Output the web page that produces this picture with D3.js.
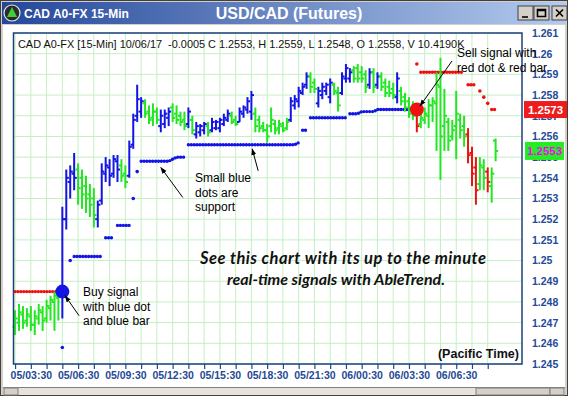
<!DOCTYPE html>
<html>
<head>
<meta charset="utf-8">
<script src="https://cdn.jsdelivr.net/npm/d3@7/dist/d3.min.js"></script>
<style>
  body { margin: 0; background: #fff; }
  svg { display: block; font-family: "Liberation Sans", Arial, sans-serif; }
</style>
</head>
<body>
<div id="chart"></div>
<script>
var _ = null;

// AbleTrend bar colours: g = green, b = blue (up), r = red (down)
var barColors = ("gggggggggg" + "ggbbbbgggg" + "gbbbbbbggb" + "bbbggggbbb" + "ggggbgbbbg" +
                 "bbbbbggbbb" + "bggggggggg" + "bbbbbggbbb" + "bggbbbgggg" + "bgbggggbgg" +
                 "ggrggggggg" + "gggggrrrgg" + "rgg").split("");

var opens = [
  1.2468,1.2470,1.2474,1.2471,1.2473,1.2469,1.2472,1.2475,1.2472,1.2477,
  1.2480,1.2482,1.2484,1.2520,1.2538,1.2542,1.2544,1.2540,1.2536,1.2532,
  1.2530,1.2520,1.2529,1.2542,1.2545,1.2542,1.2548,1.2546,1.2542,1.2541,
  1.2556,1.2570,1.2572,1.2576,1.2572,1.2569,1.2572,1.2565,1.2566,1.2569,
  1.2574,1.2571,1.2570,1.2568,1.2566,1.2568,1.2561,1.2562,1.2563,1.2565,
  1.2563,1.2564,1.2564,1.2566,1.2568,1.2570,1.2568,1.2567,1.2571,1.2573,
  1.2572,1.2571,1.2568,1.2565,1.2563,1.2565,1.2566,1.2564,1.2565,1.2564,
  1.2568,1.2575,1.2577,1.2581,1.2585,1.2589,1.2586,1.2576,1.2580,1.2582,
  1.2579,1.2585,1.2581,1.2581,1.2588,1.2588,1.2592,1.2593,1.2591,1.2590,
  1.2585,1.2591,1.2585,1.2589,1.2586,1.2584,1.2583,1.2579,1.2582,1.2579,
  1.2577,1.2574,1.2573,1.2566,1.2568,1.2570,1.2575,1.2576,1.2584,1.2565,
  1.2567,1.2560,1.2565,1.2568,1.2565,1.2561,1.2552,1.2545,1.2537,1.2545,
  1.2543,1.2536,1.2558];
var highs = [
  1.2476,1.2479,1.2478,1.2477,1.2478,1.2476,1.2479,1.2478,1.2481,1.2483,
  1.2485,1.2486,1.2526,1.2544,1.2546,1.2552,1.2547,1.2544,1.2541,1.2537,
  1.2535,1.2529,1.2547,1.2550,1.2549,1.2551,1.2551,1.2549,1.2546,1.2558,
  1.2571,1.2585,1.2579,1.2578,1.2575,1.2576,1.2574,1.2573,1.2573,1.2574,
  1.2576,1.2575,1.2572,1.2572,1.2574,1.2570,1.2567,1.2566,1.2567,1.2567,
  1.2569,1.2568,1.2569,1.2571,1.2573,1.2572,1.2570,1.2574,1.2575,1.2579,
  1.2582,1.2574,1.2570,1.2567,1.2566,1.2574,1.2568,1.2568,1.2567,1.2569,
  1.2579,1.2580,1.2584,1.2586,1.2591,1.2591,1.2588,1.2584,1.2586,1.2586,
  1.2588,1.2586,1.2584,1.2591,1.2595,1.2593,1.2594,1.2595,1.2594,1.2592,
  1.2593,1.2593,1.2591,1.2591,1.2588,1.2587,1.2586,1.2591,1.2584,1.2581,
  1.2579,1.2577,1.2575,1.2572,1.2574,1.2578,1.2579,1.2591,1.2598,1.2583,
  1.2569,1.2568,1.2582,1.2571,1.2570,1.2564,1.2555,1.2550,1.2550,1.2549,
  1.2545,1.2545,1.2559];
var lows = [
  1.2464,1.2466,1.2467,1.2468,1.2466,1.2464,1.2469,1.2466,1.2470,1.2471,
  1.2466,1.2471,1.2472,1.2515,1.2530,1.2534,1.2527,1.2525,1.2523,1.2521,
  1.2516,1.2516,1.2527,1.2538,1.2536,1.2540,1.2538,1.2538,1.2535,1.2540,
  1.2554,1.2567,1.2569,1.2569,1.2566,1.2565,1.2566,1.2562,1.2564,1.2565,
  1.2567,1.2566,1.2565,1.2563,1.2564,1.2561,1.2559,1.2560,1.2561,1.2560,
  1.2562,1.2563,1.2562,1.2565,1.2567,1.2566,1.2565,1.2567,1.2569,1.2571,
  1.2568,1.2562,1.2562,1.2562,1.2557,1.2562,1.2561,1.2561,1.2562,1.2563,
  1.2567,1.2573,1.2574,1.2580,1.2583,1.2581,1.2581,1.2574,1.2578,1.2580,
  1.2576,1.2580,1.2572,1.2580,1.2586,1.2586,1.2586,1.2586,1.2586,1.2581,
  1.2583,1.2581,1.2583,1.2582,1.2579,1.2579,1.2578,1.2576,1.2575,1.2572,
  1.2569,1.2568,1.2562,1.2564,1.2566,1.2564,1.2567,1.2553,1.2539,1.2553,
  1.2553,1.2558,1.2549,1.2559,1.2555,1.2547,1.2536,1.2527,1.2534,1.2534,
  1.2533,1.2528,1.2548];
var closes = [
  1.2472,1.2475,1.2470,1.2474,1.2469,1.2473,1.2476,1.2471,1.2478,1.2481,
  1.2483,1.2484,1.2520,1.2540,1.2543,1.2540,1.2535,1.2532,1.2530,1.2527,
  1.2522,1.2527,1.2543,1.2546,1.2541,1.2549,1.2544,1.2541,1.2538,1.2555,
  1.2568,1.2578,1.2577,1.2571,1.2568,1.2572,1.2568,1.2570,1.2571,1.2572,
  1.2569,1.2568,1.2567,1.2565,1.2572,1.2563,1.2565,1.2565,1.2566,1.2562,
  1.2567,1.2567,1.2568,1.2569,1.2571,1.2567,1.2566,1.2572,1.2574,1.2577,
  1.2580,1.2565,1.2564,1.2563,1.2560,1.2568,1.2563,1.2566,1.2563,1.2567,
  1.2577,1.2578,1.2582,1.2584,1.2589,1.2584,1.2583,1.2582,1.2584,1.2585,
  1.2586,1.2582,1.2575,1.2589,1.2593,1.2591,1.2588,1.2588,1.2588,1.2584,
  1.2591,1.2584,1.2589,1.2584,1.2581,1.2581,1.2580,1.2588,1.2577,1.2574,
  1.2571,1.2570,1.2565,1.2569,1.2571,1.2575,1.2577,1.2585,1.2560,1.2570,
  1.2558,1.2563,1.2571,1.2563,1.2560,1.2551,1.2542,1.2534,1.2546,1.2540,
  1.2538,1.2542,1.2553];

// support (blue dots) and resistance (red dots) per bar
var support = [
  _,_,_,_,_,_,_,_,_,_,
  _,_,1.2458,_,1.2500,1.2502,1.2502,1.2502,1.2502,1.2502,
  1.2502,1.2502,1.2502,1.2511,1.2511,1.2511,1.2517,1.2517,1.2517,1.2517,
  1.2530,1.2543,1.2548,1.2548,1.2548,1.2548,1.2548,1.2548,1.2548,1.2548,
  1.2549,1.2550,1.2550,1.2550,1.2556,1.2556,1.2556,1.2556,1.2556,1.2556,
  1.2556,1.2556,1.2556,1.2556,1.2556,1.2556,1.2556,1.2556,1.2556,1.2556,
  1.2556,1.2556,1.2556,1.2556,1.2556,1.2556,1.2556,1.2556,1.2556,1.2556,
  1.2556,1.2556,1.2557,1.2563,1.2563,1.2569,1.2569,1.2569,1.2569,1.2569,
  1.2569,1.2569,1.2569,1.2569,1.2569,1.2571,1.2571,1.2571,1.2572,1.2572,
  1.2572,1.2572,1.2573,1.2573,1.2573,1.2573,1.2573,1.2573,1.2573,1.2573,
  1.2573,1.2573,_,_,_,_,_,_,_,_,
  _,_,_,_,_,_,_,_,_,_,
  _,_,_];
var resistance = [
  1.2485,1.2485,1.2485,1.2485,1.2485,1.2485,1.2485,1.2485,1.2485,1.2485,
  1.2485,1.2485,_,_,_,_,_,_,_,_,
  _,_,_,_,_,_,_,_,_,_,
  _,_,_,_,_,_,_,_,_,_,
  _,_,_,_,_,_,_,_,_,_,
  _,_,_,_,_,_,_,_,_,_,
  _,_,_,_,_,_,_,_,_,_,
  _,_,_,_,_,_,_,_,_,_,
  _,_,_,_,_,_,_,_,_,_,
  _,_,_,_,_,_,_,_,_,_,
  _,_,1.2595,1.2591,1.2591,1.2591,1.2591,1.2591,1.2591,1.2591,
  1.2591,1.2591,1.2591,1.2591,1.2591,1.2585,1.2585,1.2585,1.2582,1.2579,
  1.2576,1.2573,1.2573];

var buySignal = { bar: 12, price: 1.2485 };
var sellSignal = { bar: 102, price: 1.2573 };

var yTickLabels = ["1.245","1.246","1.247","1.248","1.249","1.25","1.251","1.252",
                   "1.253","1.254","1.255","1.256","1.257","1.258","1.259","1.26","1.261"];
var xTickLabels = ["05/03:30","05/06:30","05/09:30","05/12:30","05/15:30",
                   "05/18:30","05/21:30","06/00:30","06/03:30","06/06:30"];
var hourTickBars = d3.range(0, 121, 4);      // one grid line per hour (4 bars)
var labelBars = d3.range(4, 113, 12);        // label every third hour

var headerText = "CAD A0-FX [15-Min] 10/06/17  -0.0005 C 1.2553, H 1.2559, L 1.2548, O 1.2558, V 10.4190K";

var W = 568, H = 396;
var plotL = 13.5, plotR = 522, plotT = 33, plotB = 364;
var colors = { g: "#22e622", b: "#1414e6", r: "#ee1111" };
var axisBlue = "#1f4a96";

var x = d3.scaleLinear().domain([-0.4, 128.7]).range([plotL, plotR]);
var y = d3.scaleLinear().domain([1.245, 1.261]).range([plotB, plotT]);

var svg = d3.select("#chart").append("svg")
    .attr("width", W)
    .attr("height", H);

var defs = svg.append("defs");
var grad = defs.append("linearGradient").attr("id", "titleGrad");
grad.append("stop").attr("offset", "0%").attr("stop-color", "#24479a");
grad.append("stop").attr("offset", "100%").attr("stop-color", "#b4cbee");
defs.append("marker")
    .attr("id", "arrow")
    .attr("viewBox", "0 0 10 10")
    .attr("refX", 9).attr("refY", 5)
    .attr("markerWidth", 7).attr("markerHeight", 7)
    .attr("orient", "auto")
    .append("path").attr("d", "M0,1.5 L10,5 L0,8.5 Z").attr("fill", "#000");

// window frame
svg.append("rect").attr("width", W).attr("height", H).attr("fill", "#d4d0c8");
svg.append("rect").attr("x", 0.5).attr("y", 0.5).attr("width", W - 1).attr("height", H - 1)
    .attr("fill", "none").attr("stroke", "#404040");
svg.append("rect").attr("x", 3).attr("y", 25).attr("width", W - 6).attr("height", 362).attr("fill", "#fff");

// title bar
svg.append("rect").attr("x", 2).attr("y", 2).attr("width", W - 4).attr("height", 22).attr("fill", "url(#titleGrad)");
svg.append("circle").attr("cx", 12).attr("cy", 13).attr("r", 8).attr("fill", "#2b2b2b").attr("stroke", "#e8e8e8").attr("stroke-width", 1.2);
svg.append("path").attr("d", "M12,7 L17,17 L7,17 Z").attr("fill", "#3ccf3c");
svg.append("text").attr("x", 24).attr("y", 17.5).attr("fill", "#fff")
    .style("font-size", "12px").style("font-weight", "bold").text("CAD A0-FX 15-Min");
svg.append("text").attr("x", 289).attr("y", 19).attr("fill", "#fff").attr("text-anchor", "middle")
    .style("font-size", "16px").style("font-weight", "bold").text("USD/CAD (Futures)");
var btn = svg.selectAll(".btn").data([0, 1, 2]).enter().append("g")
    .attr("transform", function (d) { return "translate(" + (518 + d * 16 + (d == 2 ? 2 : 0)) + ",6)"; });
btn.append("rect").attr("width", 15).attr("height", 14).attr("fill", "#d4d0c8")
    .attr("stroke", "#404040").attr("stroke-width", 1);
btn.append("path").attr("fill", "none").attr("stroke", "#000").attr("stroke-width", 1.6)
    .attr("d", function (d) {
        if (d == 0) return "M4,11 H10";
        if (d == 1) return "M3.5,3.5 H11.5 V10.5 H3.5 Z M3.5,4.5 H11.5";
        return "M4,3.5 L11,10.5 M11,3.5 L4,10.5";
    });

// bottom scrollbar strip
svg.append("rect").attr("x", 3).attr("y", 387).attr("width", W - 6).attr("height", 8).attr("fill", "#e6e3dc");
svg.append("line").attr("x1", 3).attr("x2", W - 3).attr("y1", 387.5).attr("y2", 387.5).attr("stroke", "#808080");
svg.append("rect").attr("x", 4).attr("y", 388).attr("width", 14).attr("height", 7).attr("fill", "#d4d0c8").attr("stroke", "#808080");
svg.append("rect").attr("x", 476).attr("y", 388).attr("width", 74).attr("height", 7).attr("fill", "#d4d0c8").attr("stroke", "#808080");
svg.append("rect").attr("x", 550).attr("y", 388).attr("width", 14).attr("height", 7).attr("fill", "#d4d0c8").attr("stroke", "#808080");

// grid
var grid = svg.append("g");
grid.selectAll(".hg").data(yTickLabels).enter().append("line")
    .attr("x1", plotL).attr("x2", plotR)
    .attr("y1", function (d) { return y(+d); }).attr("y2", function (d) { return y(+d); })
    .attr("stroke", "#c4efc4").attr("stroke-width", 1);
grid.selectAll(".vg").data(hourTickBars).enter().append("line")
    .attr("x1", function (d) { return x(d); }).attr("x2", function (d) { return x(d); })
    .attr("y1", plotT).attr("y2", plotB)
    .attr("stroke", "#c4efc4").attr("stroke-width", 1);

// axes
var xAxis = d3.axisBottom(x)
    .tickValues(hourTickBars)
    .tickSize(5)
    .tickPadding(3)
    .tickFormat(function (d) { var k = labelBars.indexOf(d); return k < 0 ? "" : xTickLabels[k]; });
var gx = svg.append("g").attr("transform", "translate(0," + plotB + ")").call(xAxis);
gx.select(".domain").remove();
gx.selectAll("line").attr("stroke", axisBlue).attr("stroke-width", 1.2);
gx.selectAll("text").attr("fill", axisBlue).style("font-size", "10.5px").style("font-weight", "bold")
    .style("font-family", "'Liberation Sans', Arial, sans-serif");

var yAxis = d3.axisRight(y)
    .tickValues(yTickLabels.map(Number))
    .tickSize(0)
    .tickPadding(10)
    .tickFormat(function (d, i) { return yTickLabels[i]; });
var gy = svg.append("g").attr("transform", "translate(" + plotR + ",0)").call(yAxis);
gy.select(".domain").remove();
gy.selectAll("text").attr("fill", axisBlue).style("font-size", "10.5px").style("font-weight", "bold")
    .style("font-family", "'Liberation Sans', Arial, sans-serif");

// support / resistance dots
function levelRuns(levels) {
    var runs = [], cur = null;
    levels.forEach(function (v, i) {
        if (v == null) { cur = null; return; }
        if (cur && Math.abs(v - cur[cur.length - 1].v) < 0.00015) cur.push({ i: i, v: v });
        else { cur = [{ i: i, v: v }]; runs.push(cur); }
    });
    return runs;
}
var dotLine = d3.line().x(function (d) { return x(d.i); }).y(function (d) { return y(d.v); });
function drawLevels(levels, color) {
    var runs = levelRuns(levels);
    var g = svg.append("g");
    runs.forEach(function (run) {
        if (run.length == 1) {
            g.append("circle").attr("cx", x(run[0].i)).attr("cy", y(run[0].v)).attr("r", 1.8).attr("fill", color);
        } else {
            g.append("path").attr("d", dotLine(run)).attr("fill", "none")
                .attr("stroke", color).attr("stroke-width", 3.4)
                .attr("stroke-linecap", "round").attr("stroke-dasharray", "0 2.9");
        }
    });
}
drawLevels(support, "#1414e6");
drawLevels(resistance, "#ee1111");

// OHLC bars
var bars = svg.append("g").selectAll(".bar")
    .data(d3.range(opens.length))
    .enter().append("g")
    .attr("stroke", function (i) { return colors[barColors[i]]; })
    .attr("stroke-width", 2);
bars.append("line")
    .attr("x1", function (i) { return x(i); }).attr("x2", function (i) { return x(i); })
    .attr("y1", function (i) { return y(highs[i]); }).attr("y2", function (i) { return y(lows[i]); });
bars.append("line")
    .attr("x1", function (i) { return x(i) - 2.6; }).attr("x2", function (i) { return x(i); })
    .attr("y1", function (i) { return y(opens[i]); }).attr("y2", function (i) { return y(opens[i]); });
bars.append("line")
    .attr("x1", function (i) { return x(i); }).attr("x2", function (i) { return x(i) + 2.6; })
    .attr("y1", function (i) { return y(closes[i]); }).attr("y2", function (i) { return y(closes[i]); });

// signal dots
svg.append("circle").attr("cx", x(buySignal.bar)).attr("cy", y(buySignal.price)).attr("r", 7).attr("fill", "#1414e6");
svg.append("circle").attr("cx", x(sellSignal.bar)).attr("cy", y(sellSignal.price)).attr("r", 7).attr("fill", "#ee1111");

// plot border
svg.append("rect").attr("x", plotL).attr("y", plotT).attr("width", plotR - plotL).attr("height", plotB - plotT)
    .attr("fill", "none").attr("stroke", "#1c3f7e").attr("stroke-width", 1.5);

// header
svg.append("text").attr("x", 18).attr("y", 48).attr("fill", "#111")
    .style("font-size", "10.9px").style("white-space", "pre").text(headerText);

// price tags
var lastClose = closes[closes.length - 1];
var lastRes = resistance[resistance.length - 1];
svg.append("rect").attr("x", 524).attr("y", y(lastRes) - 8.5).attr("width", 43).attr("height", 17).attr("fill", "#ee1c1c");
svg.append("text").attr("x", 545.5).attr("y", y(lastRes) + 4.5).attr("text-anchor", "middle").attr("fill", "#fff")
    .style("font-size", "11.5px").style("font-weight", "bold").text(lastRes.toFixed(4));
svg.append("rect").attr("x", 525).attr("y", y(lastClose) - 9).attr("width", 39).attr("height", 18).attr("fill", "#22ee22");
svg.append("text").attr("x", 544.5).attr("y", y(lastClose) + 4.5).attr("text-anchor", "middle").attr("fill", "#ff00ff")
    .style("font-size", "11.5px").style("font-weight", "bold").text(lastClose.toFixed(4));

// annotations
var notes = [
    { x: 457, y: 57, lines: ["Sell signal with", "red dot & red bar"] },
    { x: 195, y: 182, lines: ["Small blue", "dots are", "support"] },
    { x: 83, y: 296, lines: ["Buy signal", "with blue dot", "and blue bar"] }
];
notes.forEach(function (n) {
    var t = svg.append("text").attr("x", n.x).attr("y", n.y).attr("fill", "#000").style("font-size", "12px");
    n.lines.forEach(function (s, k) {
        t.append("tspan").attr("x", n.x).attr("dy", k == 0 ? 0 : 14.5).text(s);
    });
});
var arrows = [
    { bar: sellSignal.bar + 0.8, price: sellSignal.price + 0.00017, dx: 32, dy: -45 },
    { bar: buySignal.bar + 0.7, price: buySignal.price - 0.0002, dx: 14, dy: 20 },
    { bar: 37, price: 1.2545, dx: 22, dy: 30 },
    { bar: 60.2, price: 1.2554, dx: 6, dy: 22 }
];
svg.selectAll(".arrow").data(arrows).enter().append("line")
    .attr("x1", function (d) { return x(d.bar) + d.dx; })
    .attr("y1", function (d) { return y(d.price) + d.dy; })
    .attr("x2", function (d) { return x(d.bar); })
    .attr("y2", function (d) { return y(d.price); })
    .attr("stroke", "#000").attr("stroke-width", 1)
    .attr("marker-end", "url(#arrow)");

var promo = svg.append("text").attr("fill", "#111")
    .style("font-family", "Lato, 'Open Sans', sans-serif").style("font-style", "italic")
    .style("font-weight", "bold").style("font-size", "16.5px");
promo.append("tspan").attr("x", 200).attr("y", 264)
    .attr("textLength", 286).attr("lengthAdjust", "spacing")
    .text("See this chart with its up to the minute");
promo.append("tspan").attr("x", 227).attr("y", 285).style("font-size", "16px")
    .text("real-time signals with AbleTrend.");

svg.append("text").attr("x", 519).attr("y", 358).attr("text-anchor", "end").attr("fill", "#111")
    .style("font-size", "12.5px").style("font-weight", "bold").text("(Pacific Time)");
</script>
</body>
</html>
